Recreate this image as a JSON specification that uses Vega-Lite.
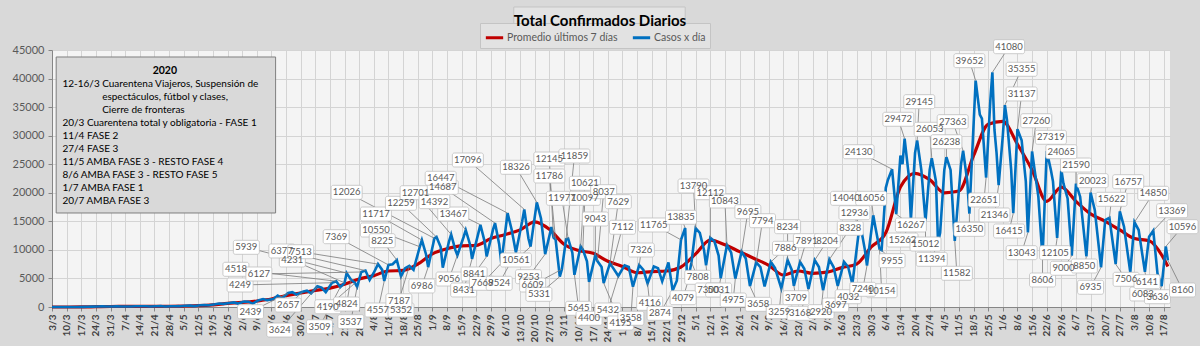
{
"$schema":"https://vega.github.io/schema/vega-lite/v6.json",
"width":1118,"height":257,
"autosize":{"type":"none"},
"padding":{"left":52,"top":50,"right":30,"bottom":39},
"background":"#d9d9d9",
"view":{"fill":"#f4f4f4","stroke":null},
"config":{"font":"Lato","axis":{"labelFont":"Lato"}},
"title":{"text":"Total  Confirmados  Diarios","font":"Lato","fontSize":15,"fontWeight":"bold","color":"#000000","offset":-23,"anchor":"middle","dx":-11},
"datasets":{
"boxes":[{"x1":"2020-10-10","x2":"2020-12-31","y1":52530,"y2":48850,"kind":"title"},{"x1":"2020-03-05","x2":"2020-06-18","y1":43775,"y2":16460,"kind":"notes"}],
"notes":[
{"txt":"2020","nd":"2020-04-26","nv":41324,"b":1},
{"txt":"12-16/3","nd":"2020-03-08","nv":39047,"b":0},
{"txt":"Cuarentena Viajeros, Suspensión de","nd":"2020-03-27","nv":39047,"b":0},
{"txt":"espectáculos, fútbol y clases,","nd":"2020-03-27","nv":36771,"b":0},
{"txt":"Cierre de fronteras","nd":"2020-03-27","nv":34495,"b":0},
{"txt":"20/3 Cuarentena total y obligatoria - FASE 1","nd":"2020-03-08","nv":32218,"b":0},
{"txt":"11/4 FASE 2","nd":"2020-03-08","nv":29942,"b":0},
{"txt":"27/4 FASE 3","nd":"2020-03-08","nv":27666,"b":0},
{"txt":"11/5 AMBA FASE 3 - RESTO FASE 4","nd":"2020-03-08","nv":25390,"b":0},
{"txt":"8/6 AMBA FASE 3 - RESTO FASE 5","nd":"2020-03-08","nv":23113,"b":0},
{"txt":"1/7 AMBA FASE 1","nd":"2020-03-08","nv":20837,"b":0},
{"txt":"20/7 AMBA FASE 3","nd":"2020-03-08","nv":18561,"b":0}
],
"blue":[
{"d":"2020-03-03","v":1},{"d":"2020-03-06","v":3},{"d":"2020-03-08","v":5},{"d":"2020-03-11","v":8},{"d":"2020-03-13","v":12},{"d":"2020-03-15","v":11},{"d":"2020-03-18","v":18},{"d":"2020-03-20","v":31},{"d":"2020-03-22","v":67},{"d":"2020-03-25","v":86},{"d":"2020-03-27","v":101},{"d":"2020-03-29","v":75},
{"d":"2020-04-01","v":88},{"d":"2020-04-03","v":130},{"d":"2020-04-05","v":88},{"d":"2020-04-08","v":100},{"d":"2020-04-10","v":100},{"d":"2020-04-12","v":130},{"d":"2020-04-15","v":140},{"d":"2020-04-17","v":120},{"d":"2020-04-19","v":90},{"d":"2020-04-22","v":140},{"d":"2020-04-24","v":170},{"d":"2020-04-26","v":100},{"d":"2020-04-29","v":140},
{"d":"2020-05-01","v":120},{"d":"2020-05-03","v":145},{"d":"2020-05-06","v":220},{"d":"2020-05-08","v":240},{"d":"2020-05-10","v":160},{"d":"2020-05-13","v":315},{"d":"2020-05-15","v":350},{"d":"2020-05-17","v":300},{"d":"2020-05-20","v":470},{"d":"2020-05-22","v":600},{"d":"2020-05-24","v":550},{"d":"2020-05-27","v":700},{"d":"2020-05-29","v":800},{"d":"2020-05-31","v":600},
{"d":"2020-06-03","v":950},{"d":"2020-06-05","v":930},{"d":"2020-06-07","v":600},{"d":"2020-06-10","v":1200},{"d":"2020-06-12","v":1400},{"d":"2020-06-14","v":1200},{"d":"2020-06-17","v":1400},{"d":"2020-06-19","v":2000},{"d":"2020-06-21","v":1500},{"d":"2020-06-24","v":2439},{"d":"2020-06-26","v":2600},{"d":"2020-06-28","v":2200},
{"d":"2020-07-01","v":2657},{"d":"2020-07-03","v":2845},{"d":"2020-07-05","v":2400},{"d":"2020-07-08","v":3624},{"d":"2020-07-10","v":3400},{"d":"2020-07-12","v":2600},{"d":"2020-07-15","v":4249},{"d":"2020-07-17","v":4518},{"d":"2020-07-19","v":3509},{"d":"2020-07-21","v":4231},{"d":"2020-07-22","v":5939},{"d":"2020-07-24","v":4824},{"d":"2020-07-26","v":4190},{"d":"2020-07-27","v":3537},{"d":"2020-07-29","v":6127},{"d":"2020-07-31","v":6377},
{"d":"2020-08-02","v":4730},{"d":"2020-08-04","v":6000},{"d":"2020-08-06","v":7513},{"d":"2020-08-08","v":6500},{"d":"2020-08-09","v":4557},{"d":"2020-08-11","v":7369},{"d":"2020-08-13","v":7500},{"d":"2020-08-15","v":8225},{"d":"2020-08-17","v":5352},{"d":"2020-08-19","v":6800},{"d":"2020-08-21","v":7187},{"d":"2020-08-23","v":6500},{"d":"2020-08-26","v":10550},{"d":"2020-08-27","v":11717},{"d":"2020-08-29","v":9200},{"d":"2020-08-30","v":6986},
{"d":"2020-09-02","v":12026},{"d":"2020-09-03","v":12259},{"d":"2020-09-05","v":10500},{"d":"2020-09-06","v":6900},{"d":"2020-09-09","v":11500},{"d":"2020-09-10","v":12701},{"d":"2020-09-12","v":10000},{"d":"2020-09-13","v":9056},{"d":"2020-09-16","v":12300},{"d":"2020-09-17","v":13467},{"d":"2020-09-19","v":11000},{"d":"2020-09-20","v":8431},{"d":"2020-09-23","v":12900},{"d":"2020-09-24","v":14392},{"d":"2020-09-26","v":11500},{"d":"2020-09-27","v":8841},{"d":"2020-09-30","v":13500},
{"d":"2020-10-01","v":14687},{"d":"2020-10-03","v":11000},{"d":"2020-10-04","v":7668},{"d":"2020-10-07","v":16447},{"d":"2020-10-09","v":13500},{"d":"2020-10-11","v":9524},{"d":"2020-10-14","v":15000},{"d":"2020-10-15","v":17096},{"d":"2020-10-17","v":12000},{"d":"2020-10-18","v":10561},{"d":"2020-10-21","v":18326},{"d":"2020-10-23","v":15500},{"d":"2020-10-25","v":9253},{"d":"2020-10-28","v":14000},{"d":"2020-10-29","v":12145},{"d":"2020-10-30","v":11786},
{"d":"2020-11-01","v":5331},{"d":"2020-11-02","v":6609},{"d":"2020-11-04","v":11859},{"d":"2020-11-05","v":11977},{"d":"2020-11-07","v":9500},{"d":"2020-11-08","v":5645},{"d":"2020-11-11","v":10621},{"d":"2020-11-12","v":10097},{"d":"2020-11-14","v":8000},{"d":"2020-11-15","v":4400},{"d":"2020-11-18","v":9043},{"d":"2020-11-19","v":8037},{"d":"2020-11-21","v":7000},{"d":"2020-11-22","v":4195},{"d":"2020-11-25","v":7629},{"d":"2020-11-26","v":7112},{"d":"2020-11-28","v":6000},{"d":"2020-11-29","v":5432},
{"d":"2020-12-02","v":7300},{"d":"2020-12-04","v":7000},{"d":"2020-12-06","v":3558},{"d":"2020-12-09","v":7326},{"d":"2020-12-11","v":6500},{"d":"2020-12-13","v":4116},{"d":"2020-12-16","v":7100},{"d":"2020-12-18","v":6800},{"d":"2020-12-20","v":4500},{"d":"2020-12-23","v":7800},{"d":"2020-12-25","v":2874},{"d":"2020-12-27","v":4600},{"d":"2020-12-29","v":11765},{"d":"2020-12-31","v":13835},
{"d":"2021-01-01","v":4079},{"d":"2021-01-03","v":7808},{"d":"2021-01-05","v":13790},{"d":"2021-01-07","v":12960},{"d":"2021-01-09","v":10000},{"d":"2021-01-10","v":7300},{"d":"2021-01-12","v":12112},{"d":"2021-01-14","v":11500},{"d":"2021-01-16","v":9000},{"d":"2021-01-17","v":5031},{"d":"2021-01-20","v":10843},{"d":"2021-01-22","v":9500},{"d":"2021-01-24","v":4975},{"d":"2021-01-27","v":9695},{"d":"2021-01-29","v":8500},{"d":"2021-01-31","v":3658},
{"d":"2021-02-03","v":7794},{"d":"2021-02-05","v":7000},{"d":"2021-02-07","v":3600},{"d":"2021-02-10","v":7886},{"d":"2021-02-12","v":6800},{"d":"2021-02-15","v":3259},{"d":"2021-02-18","v":8234},{"d":"2021-02-20","v":6500},{"d":"2021-02-21","v":3709},{"d":"2021-02-24","v":7891},{"d":"2021-02-26","v":6700},{"d":"2021-02-28","v":3168},
{"d":"2021-03-03","v":8204},{"d":"2021-03-05","v":7000},{"d":"2021-03-07","v":2920},{"d":"2021-03-10","v":8328},{"d":"2021-03-12","v":7000},{"d":"2021-03-14","v":3697},{"d":"2021-03-17","v":7900},{"d":"2021-03-19","v":7000},{"d":"2021-03-21","v":4032},{"d":"2021-03-24","v":12936},{"d":"2021-03-25","v":14040},{"d":"2021-03-27","v":10000},{"d":"2021-03-28","v":7240},{"d":"2021-03-31","v":16056},
{"d":"2021-04-01","v":14000},{"d":"2021-04-03","v":10154},{"d":"2021-04-04","v":9955},{"d":"2021-04-06","v":20870},{"d":"2021-04-07","v":22240},{"d":"2021-04-09","v":24130},{"d":"2021-04-11","v":16267},{"d":"2021-04-13","v":26500},{"d":"2021-04-14","v":25000},{"d":"2021-04-15","v":29472},{"d":"2021-04-17","v":23000},{"d":"2021-04-18","v":15262},{"d":"2021-04-20","v":27000},{"d":"2021-04-21","v":29145},{"d":"2021-04-23","v":24000},{"d":"2021-04-25","v":15012},{"d":"2021-04-27","v":24000},{"d":"2021-04-28","v":26053},{"d":"2021-04-30","v":22000},
{"d":"2021-05-01","v":11394},{"d":"2021-05-02","v":13000},{"d":"2021-05-04","v":24000},{"d":"2021-05-05","v":26238},{"d":"2021-05-07","v":24000},{"d":"2021-05-09","v":11582},{"d":"2021-05-12","v":25000},{"d":"2021-05-13","v":27363},{"d":"2021-05-15","v":22000},{"d":"2021-05-16","v":16350},{"d":"2021-05-19","v":39652},{"d":"2021-05-21","v":33670},{"d":"2021-05-22","v":33000},{"d":"2021-05-24","v":22651},{"d":"2021-05-26","v":36000},{"d":"2021-05-27","v":41080},{"d":"2021-05-28","v":31000},{"d":"2021-05-29","v":27000},{"d":"2021-05-30","v":21346},
{"d":"2021-06-01","v":30000},{"d":"2021-06-02","v":35355},{"d":"2021-06-03","v":32700},{"d":"2021-06-05","v":24000},{"d":"2021-06-06","v":16415},{"d":"2021-06-08","v":31137},{"d":"2021-06-10","v":29200},{"d":"2021-06-12","v":22000},{"d":"2021-06-13","v":13043},{"d":"2021-06-15","v":27260},{"d":"2021-06-16","v":24570},{"d":"2021-06-18","v":19320},{"d":"2021-06-20","v":8606},{"d":"2021-06-22","v":27319},{"d":"2021-06-24","v":24000},{"d":"2021-06-25","v":22000},{"d":"2021-06-27","v":12105},{"d":"2021-06-29","v":24065},{"d":"2021-06-30","v":21650},
{"d":"2021-07-02","v":19000},{"d":"2021-07-04","v":9000},{"d":"2021-07-06","v":21590},{"d":"2021-07-08","v":19320},{"d":"2021-07-11","v":8850},{"d":"2021-07-13","v":20023},{"d":"2021-07-15","v":16990},{"d":"2021-07-18","v":6935},{"d":"2021-07-20","v":15230},{"d":"2021-07-22","v":15622},{"d":"2021-07-25","v":7506},{"d":"2021-07-27","v":16757},{"d":"2021-07-29","v":14070},
{"d":"2021-08-01","v":6083},{"d":"2021-08-03","v":14850},{"d":"2021-08-05","v":13480},{"d":"2021-08-08","v":6141},{"d":"2021-08-10","v":12320},{"d":"2021-08-12","v":13369},{"d":"2021-08-14","v":5900},{"d":"2021-08-16","v":3636},{"d":"2021-08-18","v":10596},{"d":"2021-08-19","v":8160}
],
"avg":[
{"d":"2020-03-03","v":0},{"d":"2020-03-10","v":3},{"d":"2020-03-17","v":10},{"d":"2020-03-24","v":50},{"d":"2020-03-31","v":90},{"d":"2020-04-07","v":100},{"d":"2020-04-14","v":120},{"d":"2020-04-21","v":120},{"d":"2020-04-28","v":130},{"d":"2020-05-05","v":170},{"d":"2020-05-12","v":240},{"d":"2020-05-19","v":380},{"d":"2020-05-26","v":620},{"d":"2020-06-02","v":800},{"d":"2020-06-09","v":1050},{"d":"2020-06-16","v":1400},{"d":"2020-06-23","v":2000},{"d":"2020-06-30","v":2450},{"d":"2020-07-07","v":2900},{"d":"2020-07-14","v":3300},{"d":"2020-07-21","v":4000},{"d":"2020-07-28","v":4900},{"d":"2020-08-04","v":5500},{"d":"2020-08-11","v":6300},{"d":"2020-08-18","v":6400},{"d":"2020-08-25","v":7500},{"d":"2020-09-01","v":9300},{"d":"2020-09-08","v":10200},{"d":"2020-09-15","v":10700},{"d":"2020-09-22","v":10800},{"d":"2020-09-29","v":12000},{"d":"2020-10-06","v":12700},{"d":"2020-10-13","v":13500},{"d":"2020-10-20","v":14900},{"d":"2020-10-27","v":13600},{"d":"2020-11-03","v":11000},{"d":"2020-11-10","v":9900},{"d":"2020-11-17","v":9400},{"d":"2020-11-24","v":8000},{"d":"2020-12-01","v":7100},{"d":"2020-12-08","v":6000},{"d":"2020-12-15","v":6200},{"d":"2020-12-22","v":6300},{"d":"2020-12-29","v":7000},
{"d":"2021-01-05","v":9300},{"d":"2021-01-12","v":11700},{"d":"2021-01-19","v":10900},{"d":"2021-01-26","v":9700},{"d":"2021-02-02","v":8500},{"d":"2021-02-09","v":7300},{"d":"2021-02-16","v":5600},{"d":"2021-02-23","v":6300},{"d":"2021-03-02","v":5900},{"d":"2021-03-09","v":6100},{"d":"2021-03-16","v":6900},{"d":"2021-03-23","v":7500},{"d":"2021-03-30","v":10500},{"d":"2021-04-06","v":13000},{"d":"2021-04-13","v":21000},{"d":"2021-04-20","v":23400},{"d":"2021-04-27","v":22300},{"d":"2021-05-04","v":20000},{"d":"2021-05-11","v":20300},{"d":"2021-05-18","v":26500},{"d":"2021-05-25","v":32000},{"d":"2021-06-01","v":32500},{"d":"2021-06-08","v":28500},{"d":"2021-06-15","v":24000},{"d":"2021-06-22","v":18500},{"d":"2021-06-29","v":21000},{"d":"2021-07-06","v":18500},{"d":"2021-07-13","v":16300},{"d":"2021-07-20","v":15000},{"d":"2021-07-27","v":13500},{"d":"2021-08-03","v":12000},{"d":"2021-08-10","v":11600},{"d":"2021-08-17","v":8500},{"d":"2021-08-19","v":7100}
],
"labels":[
{"t":2439,"ld":"2020-06-06","lv":-820,"pd":"2020-06-24"},{"t":2657,"ld":"2020-06-24","lv":350,"pd":"2020-07-01"},{"t":3624,"ld":"2020-06-20","lv":-4030,"pd":"2020-07-08"},{"t":3509,"ld":"2020-07-09","lv":-3450,"pd":"2020-07-19"},{"t":4190,"ld":"2020-07-13","lv":50,"pd":"2020-07-26"},{"t":3537,"ld":"2020-07-24","lv":-2570,"pd":"2020-07-27"},{"t":4824,"ld":"2020-07-22","lv":520,"pd":"2020-07-24"},{"t":4557,"ld":"2020-08-06","lv":-520,"pd":"2020-08-09"},{"t":5352,"ld":"2020-08-17","lv":-520,"pd":"2020-08-17"},{"t":7187,"ld":"2020-08-16","lv":1100,"pd":"2020-08-21"},{"t":6986,"ld":"2020-08-27","lv":3680,"pd":"2020-08-30"},
{"t":4249,"ld":"2020-06-01","lv":3850,"pd":"2020-07-15"},{"t":4518,"ld":"2020-05-30","lv":6600,"pd":"2020-07-17"},{"t":6127,"ld":"2020-06-10","lv":5780,"pd":"2020-07-29"},{"t":5939,"ld":"2020-06-04","lv":10450,"pd":"2020-07-22"},{"t":4231,"ld":"2020-06-26","lv":8230,"pd":"2020-07-21"},{"t":6377,"ld":"2020-06-21","lv":9810,"pd":"2020-07-31"},{"t":7513,"ld":"2020-06-30","lv":9680,"pd":"2020-08-06"},{"t":7369,"ld":"2020-07-17","lv":12310,"pd":"2020-08-11"},{"t":8225,"ld":"2020-08-08","lv":11610,"pd":"2020-08-15"},{"t":10550,"ld":"2020-08-05","lv":13480,"pd":"2020-08-26"},{"t":11717,"ld":"2020-08-05","lv":16280,"pd":"2020-08-27"},{"t":12026,"ld":"2020-07-22","lv":20080,"pd":"2020-09-02"},{"t":12259,"ld":"2020-08-17","lv":18160,"pd":"2020-09-03"},{"t":12701,"ld":"2020-08-24","lv":20010,"pd":"2020-09-10"},
{"t":13467,"ld":"2020-09-11","lv":16280,"pd":"2020-09-17"},{"t":14392,"ld":"2020-09-02","lv":18440,"pd":"2020-09-24"},{"t":14687,"ld":"2020-09-06","lv":20960,"pd":"2020-10-01"},{"t":16447,"ld":"2020-09-05","lv":22540,"pd":"2020-10-07"},{"t":17096,"ld":"2020-09-18","lv":25740,"pd":"2020-10-15"},{"t":18326,"ld":"2020-10-11","lv":24460,"pd":"2020-10-21"},{"t":12145,"ld":"2020-10-27","lv":25910,"pd":"2020-10-29"},{"t":11786,"ld":"2020-10-27","lv":22940,"pd":"2020-10-30"},{"t":11859,"ld":"2020-11-08","lv":26440,"pd":"2020-11-04"},{"t":10621,"ld":"2020-11-13","lv":21660,"pd":"2020-11-11"},{"t":11977,"ld":"2020-11-02","lv":19030,"pd":"2020-11-05"},{"t":10097,"ld":"2020-11-13","lv":19030,"pd":"2020-11-12"},{"t":8037,"ld":"2020-11-22","lv":20190,"pd":"2020-11-19"},{"t":7629,"ld":"2020-11-29","lv":18440,"pd":"2020-11-25"},{"t":9043,"ld":"2020-11-18","lv":15410,"pd":"2020-11-18"},{"t":7112,"ld":"2020-12-01","lv":13960,"pd":"2020-11-26"},{"t":11765,"ld":"2020-12-16","lv":14360,"pd":"2020-12-29"},{"t":7326,"ld":"2020-12-10","lv":9980,"pd":"2020-12-09"},
{"t":10561,"ld":"2020-10-11","lv":8230,"pd":"2020-10-18"},{"t":9056,"ld":"2020-09-09","lv":4900,"pd":"2020-09-13"},{"t":8841,"ld":"2020-09-21","lv":5780,"pd":"2020-09-27"},{"t":8431,"ld":"2020-09-16","lv":2980,"pd":"2020-09-20"},{"t":7668,"ld":"2020-09-25","lv":4150,"pd":"2020-10-04"},{"t":9524,"ld":"2020-10-03","lv":4150,"pd":"2020-10-11"},{"t":9253,"ld":"2020-10-17","lv":5310,"pd":"2020-10-25"},{"t":6609,"ld":"2020-10-19","lv":3850,"pd":"2020-11-02"},{"t":5331,"ld":"2020-10-22","lv":2220,"pd":"2020-11-01"},{"t":5645,"ld":"2020-11-10","lv":-230,"pd":"2020-11-08"},{"t":4400,"ld":"2020-11-15","lv":-1980,"pd":"2020-11-15"},{"t":5432,"ld":"2020-11-24","lv":-520,"pd":"2020-11-29"},{"t":4195,"ld":"2020-11-30","lv":-2800,"pd":"2020-11-22"},{"t":3558,"ld":"2020-12-05","lv":-1980,"pd":"2020-12-06"},{"t":4116,"ld":"2020-12-14","lv":650,"pd":"2020-12-13"},{"t":2874,"ld":"2020-12-19","lv":-1100,"pd":"2020-12-25"},
{"t":13835,"ld":"2020-12-29","lv":15710,"pd":"2020-12-31"},{"t":13790,"ld":"2021-01-04","lv":21190,"pd":"2021-01-05"},{"t":12112,"ld":"2021-01-12","lv":20010,"pd":"2021-01-12"},{"t":10843,"ld":"2021-01-19","lv":18560,"pd":"2021-01-20"},{"t":9695,"ld":"2021-01-30","lv":16690,"pd":"2021-01-27"},{"t":7794,"ld":"2021-02-06","lv":15110,"pd":"2021-02-03"},{"t":7808,"ld":"2021-01-06","lv":5200,"pd":"2021-01-03"},{"t":7300,"ld":"2021-01-11","lv":2980,"pd":"2021-01-10"},{"t":5031,"ld":"2021-01-16","lv":2980,"pd":"2021-01-17"},{"t":4079,"ld":"2020-12-30","lv":1630,"pd":"2021-01-01"},{"t":4975,"ld":"2021-01-23","lv":1230,"pd":"2021-01-24"},{"t":3658,"ld":"2021-02-04","lv":470,"pd":"2021-01-31"},
{"t":7886,"ld":"2021-02-17","lv":10280,"pd":"2021-02-10"},{"t":8234,"ld":"2021-02-18","lv":14060,"pd":"2021-02-18"},{"t":7891,"ld":"2021-02-27","lv":11610,"pd":"2021-02-24"},{"t":8204,"ld":"2021-03-09","lv":11610,"pd":"2021-03-03"},{"t":8328,"ld":"2021-03-20","lv":13780,"pd":"2021-03-10"},{"t":14040,"ld":"2021-03-18","lv":19030,"pd":"2021-03-25"},{"t":12936,"ld":"2021-03-22","lv":16510,"pd":"2021-03-24"},{"t":16056,"ld":"2021-03-30","lv":19030,"pd":"2021-03-31"},{"t":24130,"ld":"2021-03-24","lv":27190,"pd":"2021-04-09"},
{"t":3259,"ld":"2021-02-14","lv":-820,"pd":"2021-02-15"},{"t":3709,"ld":"2021-02-22","lv":1630,"pd":"2021-02-21"},{"t":3168,"ld":"2021-02-24","lv":-1100,"pd":"2021-02-28"},{"t":2920,"ld":"2021-03-06","lv":-820,"pd":"2021-03-07"},{"t":3697,"ld":"2021-03-13","lv":350,"pd":"2021-03-14"},{"t":4032,"ld":"2021-03-19","lv":1800,"pd":"2021-03-21"},{"t":7240,"ld":"2021-03-26","lv":3100,"pd":"2021-03-28"},{"t":10154,"ld":"2021-04-04","lv":2850,"pd":"2021-04-03"},{"t":9955,"ld":"2021-04-09","lv":8110,"pd":"2021-04-04"},
{"t":15262,"ld":"2021-04-14","lv":11730,"pd":"2021-04-18"},{"t":16267,"ld":"2021-04-18","lv":14360,"pd":"2021-04-11"},{"t":15012,"ld":"2021-04-25","lv":11030,"pd":"2021-04-25"},{"t":11394,"ld":"2021-04-28","lv":8350,"pd":"2021-05-01"},{"t":11582,"ld":"2021-05-10","lv":5900,"pd":"2021-05-09"},{"t":16350,"ld":"2021-05-16","lv":13600,"pd":"2021-05-16"},{"t":22651,"ld":"2021-05-23","lv":18740,"pd":"2021-05-24"},{"t":21346,"ld":"2021-05-28","lv":16110,"pd":"2021-05-30"},{"t":16415,"ld":"2021-06-04","lv":13310,"pd":"2021-06-06"},{"t":13043,"ld":"2021-06-10","lv":9510,"pd":"2021-06-13"},{"t":8606,"ld":"2021-06-20","lv":4730,"pd":"2021-06-20"},{"t":12105,"ld":"2021-06-26","lv":9510,"pd":"2021-06-27"},{"t":9000,"ld":"2021-06-30","lv":6780,"pd":"2021-07-04"},{"t":8850,"ld":"2021-07-10","lv":7180,"pd":"2021-07-11"},{"t":6935,"ld":"2021-07-13","lv":3450,"pd":"2021-07-18"},{"t":7506,"ld":"2021-07-30","lv":4850,"pd":"2021-07-25"},{"t":6083,"ld":"2021-08-07","lv":2280,"pd":"2021-08-01"},{"t":6141,"ld":"2021-08-09","lv":4430,"pd":"2021-08-08"},{"t":3636,"ld":"2021-08-14","lv":1800,"pd":"2021-08-16"},{"t":8160,"ld":"2021-08-26","lv":2980,"pd":"2021-08-19"},{"t":10596,"ld":"2021-08-26","lv":14060,"pd":"2021-08-18"},{"t":13369,"ld":"2021-08-21","lv":16860,"pd":"2021-08-12"},{"t":14850,"ld":"2021-08-12","lv":19910,"pd":"2021-08-03"},{"t":16757,"ld":"2021-07-31","lv":21940,"pd":"2021-07-27"},{"t":15622,"ld":"2021-07-23","lv":18860,"pd":"2021-07-22"},{"t":20023,"ld":"2021-07-14","lv":22120,"pd":"2021-07-13"},{"t":21590,"ld":"2021-07-06","lv":24860,"pd":"2021-07-06"},{"t":24065,"ld":"2021-06-29","lv":27190,"pd":"2021-06-29"},{"t":27319,"ld":"2021-06-24","lv":29720,"pd":"2021-06-22"},{"t":27260,"ld":"2021-06-17","lv":32620,"pd":"2021-06-15"},{"t":31137,"ld":"2021-06-10","lv":37300,"pd":"2021-06-08"},{"t":35355,"ld":"2021-06-10","lv":41620,"pd":"2021-06-02"},{"t":41080,"ld":"2021-06-04","lv":45580,"pd":"2021-05-27"},{"t":39652,"ld":"2021-05-16","lv":43130,"pd":"2021-05-19"},{"t":29145,"ld":"2021-04-22","lv":35950,"pd":"2021-04-21"},{"t":29472,"ld":"2021-04-12","lv":32870,"pd":"2021-04-15"},{"t":26053,"ld":"2021-04-27","lv":31120,"pd":"2021-04-28"},{"t":27363,"ld":"2021-05-08","lv":32450,"pd":"2021-05-13"},{"t":26238,"ld":"2021-05-05","lv":28940,"pd":"2021-05-05"}
]
},
"encoding":{
"x":{"field":"d","type":"temporal","scale":{"type":"utc","domain":[{"year":2020,"month":3,"date":3,"utc":true},{"year":2021,"month":8,"date":20,"utc":true}]},
"axis":{"title":null,"values":{"expr":"sequence(1583193600000, 1629158400001, 604800000)"},"format":"%-d/%-m","labelAngle":-90,"labelFontSize":10,"labelFontWeight":"bold","labelColor":"#404040","labelOverlap":false,"labelFlush":false,"labelPadding":3,"tickSize":4,"tickColor":"#868686","domainColor":"#868686","gridColor":"#d4d4d4"}},
"y":{"field":"v","type":"quantitative","scale":{"domain":[0,45000],"nice":false},
"axis":{"title":null,"values":[0,5000,10000,15000,20000,25000,30000,35000,40000,45000],"format":"d","labelFontSize":11,"labelColor":"#595959","tickSize":4,"tickColor":"#868686","domainColor":"#868686","gridColor":"#d4d4d4","labelPadding":4}}
},
"layer":[
{"data":{"name":"boxes"},"transform":[{"filter":"datum.kind == 'title'"}],"mark":{"type":"rect","fill":"#e3e3e3","stroke":"#c4c4c4","strokeWidth":1},
"encoding":{"x":{"field":"x1","type":"temporal"},"x2":{"field":"x2"},"y":{"field":"y1","type":"quantitative"},"y2":{"field":"y2"}}},
{"data":{"name":"avg"},"mark":{"type":"line","strokeWidth":3.2,"interpolate":"monotone"},
"encoding":{"color":{"datum":"Promedio últimos 7 días","type":"nominal","scale":{"domain":["Promedio últimos 7 días","Casos x día"],"range":["#c00000","#0070c0"]},
"legend":{"title":null,"orient":"none","legendX":428,"legendY":-27,"direction":"horizontal","fillColor":"#e2e2e2","strokeColor":"#c4c4c4","padding":4,"symbolType":"stroke","symbolStrokeWidth":3,"symbolSize":300,"labelFont":"Lato","labelFontSize":10.5,"labelColor":"#595959","columnPadding":8,"labelOffset":2}}}},
{"data":{"name":"blue"},"mark":{"type":"line","strokeWidth":2.6},
"encoding":{"color":{"datum":"Casos x día","type":"nominal"}}},
{"data":{"name":"labels"},"mark":{"type":"rule","color":"#7a7a7a","strokeWidth":0.8},
"encoding":{"x":{"field":"ld","type":"temporal"},"y":{"field":"lv","type":"quantitative"},"x2":{"field":"pd"},"y2":{"field":"t"}}},
{"data":{"name":"labels"},"transform":[{"filter":"datum.t >= 10000"}],"mark":{"type":"rect","width":31,"height":14,"fill":"#ffffff","stroke":"#bfbfbf","strokeWidth":0.8,"cornerRadius":2},
"encoding":{"x":{"field":"ld","type":"temporal"},"y":{"field":"lv","type":"quantitative"}}},
{"data":{"name":"labels"},"transform":[{"filter":"datum.t < 10000"}],"mark":{"type":"rect","width":26,"height":14,"fill":"#ffffff","stroke":"#bfbfbf","strokeWidth":0.8,"cornerRadius":2},
"encoding":{"x":{"field":"ld","type":"temporal"},"y":{"field":"lv","type":"quantitative"}}},
{"data":{"name":"labels"},"mark":{"type":"text","font":"Lato","fontSize":9.5,"color":"#595959","align":"center","baseline":"middle"},
"encoding":{"x":{"field":"ld","type":"temporal"},"y":{"field":"lv","type":"quantitative"},"text":{"field":"t","type":"nominal"}}},
{"data":{"name":"boxes"},"transform":[{"filter":"datum.kind == 'notes'"}],"mark":{"type":"rect","fill":"#d9d9d9","stroke":"#7f7f7f","strokeWidth":1},
"encoding":{"x":{"field":"x1","type":"temporal"},"x2":{"field":"x2"},"y":{"field":"y1","type":"quantitative"},"y2":{"field":"y2"}}},
{"data":{"name":"notes"},"transform":[{"filter":"datum.b == 1"}],"mark":{"type":"text","font":"Lato","fontSize":10.5,"fontWeight":"bold","color":"#000000","align":"center","baseline":"middle"},
"encoding":{"x":{"field":"nd","type":"temporal"},"y":{"field":"nv","type":"quantitative"},"text":{"field":"txt","type":"nominal"}}},
{"data":{"name":"notes"},"transform":[{"filter":"datum.b == 0"}],"mark":{"type":"text","font":"Lato","fontSize":10,"color":"#000000","align":"left","baseline":"middle"},
"encoding":{"x":{"field":"nd","type":"temporal"},"y":{"field":"nv","type":"quantitative"},"text":{"field":"txt","type":"nominal"}}}
]
}
